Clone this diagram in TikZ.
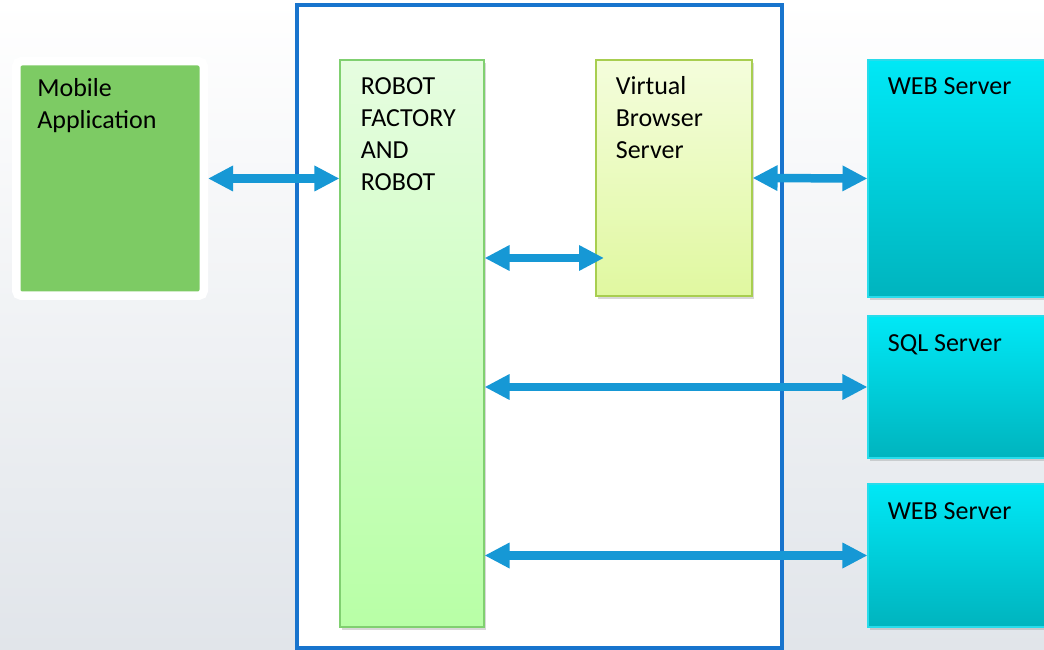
\documentclass[tikz,border=0pt]{standalone}
\usepackage{fontspec}
\setmainfont{Carlito}
\usetikzlibrary{arrows.meta,shadows}

\definecolor{framebl}{RGB}{24,116,205}
\definecolor{linkbl}{RGB}{22,152,213}
\definecolor{bgbot}{RGB}{225,229,234}
\definecolor{mobgreen}{RGB}{125,203,100}
\definecolor{robtop}{RGB}{230,253,224}
\definecolor{robbot}{RGB}{184,255,166}
\definecolor{robline}{RGB}{128,208,112}
\definecolor{vbtop}{RGB}{244,253,220}
\definecolor{vbbot}{RGB}{224,248,160}
\definecolor{vbline}{RGB}{168,206,80}
\definecolor{srvtop}{RGB}{0,232,246}
\definecolor{srvbot}{RGB}{0,180,190}
\definecolor{srvline}{RGB}{40,220,235}

\begin{document}
\begin{tikzpicture}[
    box/.style={rectangle, inner sep=0pt, line width=0.6pt,
      drop shadow={shadow xshift=0.04cm, shadow yshift=-0.06cm, opacity=0.3}},
    mobilebox/.style={box, draw=white, line width=0.17cm, rounded corners=0.1cm, fill=mobgreen,
      minimum width=3.75cm, minimum height=4.69cm},
    robotbox/.style={box, draw=robline, top color=robtop, bottom color=robbot,
      minimum width=2.88cm, minimum height=11.34cm},
    vbbox/.style={box, draw=vbline, top color=vbtop, bottom color=vbbot,
      minimum width=3.12cm, minimum height=4.72cm},
    srvbox/.style={box, draw=srvline, top color=srvtop, bottom color=srvbot, minimum width=4.14cm},
    lbl/.style={anchor=north west, align=left, inner sep=0pt, font=\fontsize{14.8}{18.2}\selectfont},
    link/.style={{Triangle[length=0.5cm,width=0.48cm]}-{Triangle[length=0.5cm,width=0.48cm]},
      line width=0.17cm, draw=linkbl},
  ]
    \clip (0,0) rectangle (20.88,-13);
    \fill[top color=white, bottom color=bgbot] (0,0) rectangle (20.88,-13);

    % Platform frame
    \node[rectangle, draw=framebl, line width=0.08cm, fill=white, minimum width=9.70cm, minimum height=12.86cm] (platform) at (10.79,-6.53) {};

    % Boxes
    \node[mobilebox] (mobile) at (2.2,-3.57) {};
    \node[robotbox] (robot) at (8.24,-6.87) {};
    \node[vbbox] (vb) at (13.48,-3.56) {};
    \node[srvbox, minimum height=4.74cm] (web1) at (19.43,-3.57) {};
    \node[srvbox, minimum height=2.84cm] (sql) at (19.43,-7.74) {};
    \node[srvbox, minimum height=2.86cm] (web2) at (19.43,-11.11) {};

    % Labels (first line carries a strut, baseline 0.7cm below the box top)
    \node[lbl] (mobiletxt) at ([xshift=0.5cm, yshift=-0.34cm]mobile.north west) {\strut Mobile\\Application};
    \node[lbl] (robottxt) at ([xshift=0.42cm, yshift=-0.25cm]robot.north west) {\strut ROBOT\\FACTORY\\AND\\ROBOT};
    \node[lbl] (vbtxt) at ([xshift=0.4cm, yshift=-0.25cm]vb.north west) {\strut Virtual\\Browser\\Server};
    \node[lbl] (web1txt) at ([xshift=0.4cm, yshift=-0.25cm]web1.north west) {\strut WEB Server};
    \node[lbl] (sqltxt) at ([xshift=0.4cm, yshift=-0.27cm]sql.north west) {\strut SQL Server};
    \node[lbl] (web2txt) at ([xshift=0.4cm, yshift=-0.27cm]web2.north west) {\strut WEB Server};

    % Links
    \coordinate (vbin) at (12.08,-5.16);
    \draw[link] (mobile.east) -- (robot.west |- mobile.east);
    \draw[link] (robot.east |- vbin) -- (vbin);
    \draw[link] (vb.east) -- (web1.west);
    \draw[link] (robot.east |- sql.west) -- (sql.west);
    \draw[link] (robot.east |- web2.west) -- (web2.west);
  \end{tikzpicture}
\end{document}
